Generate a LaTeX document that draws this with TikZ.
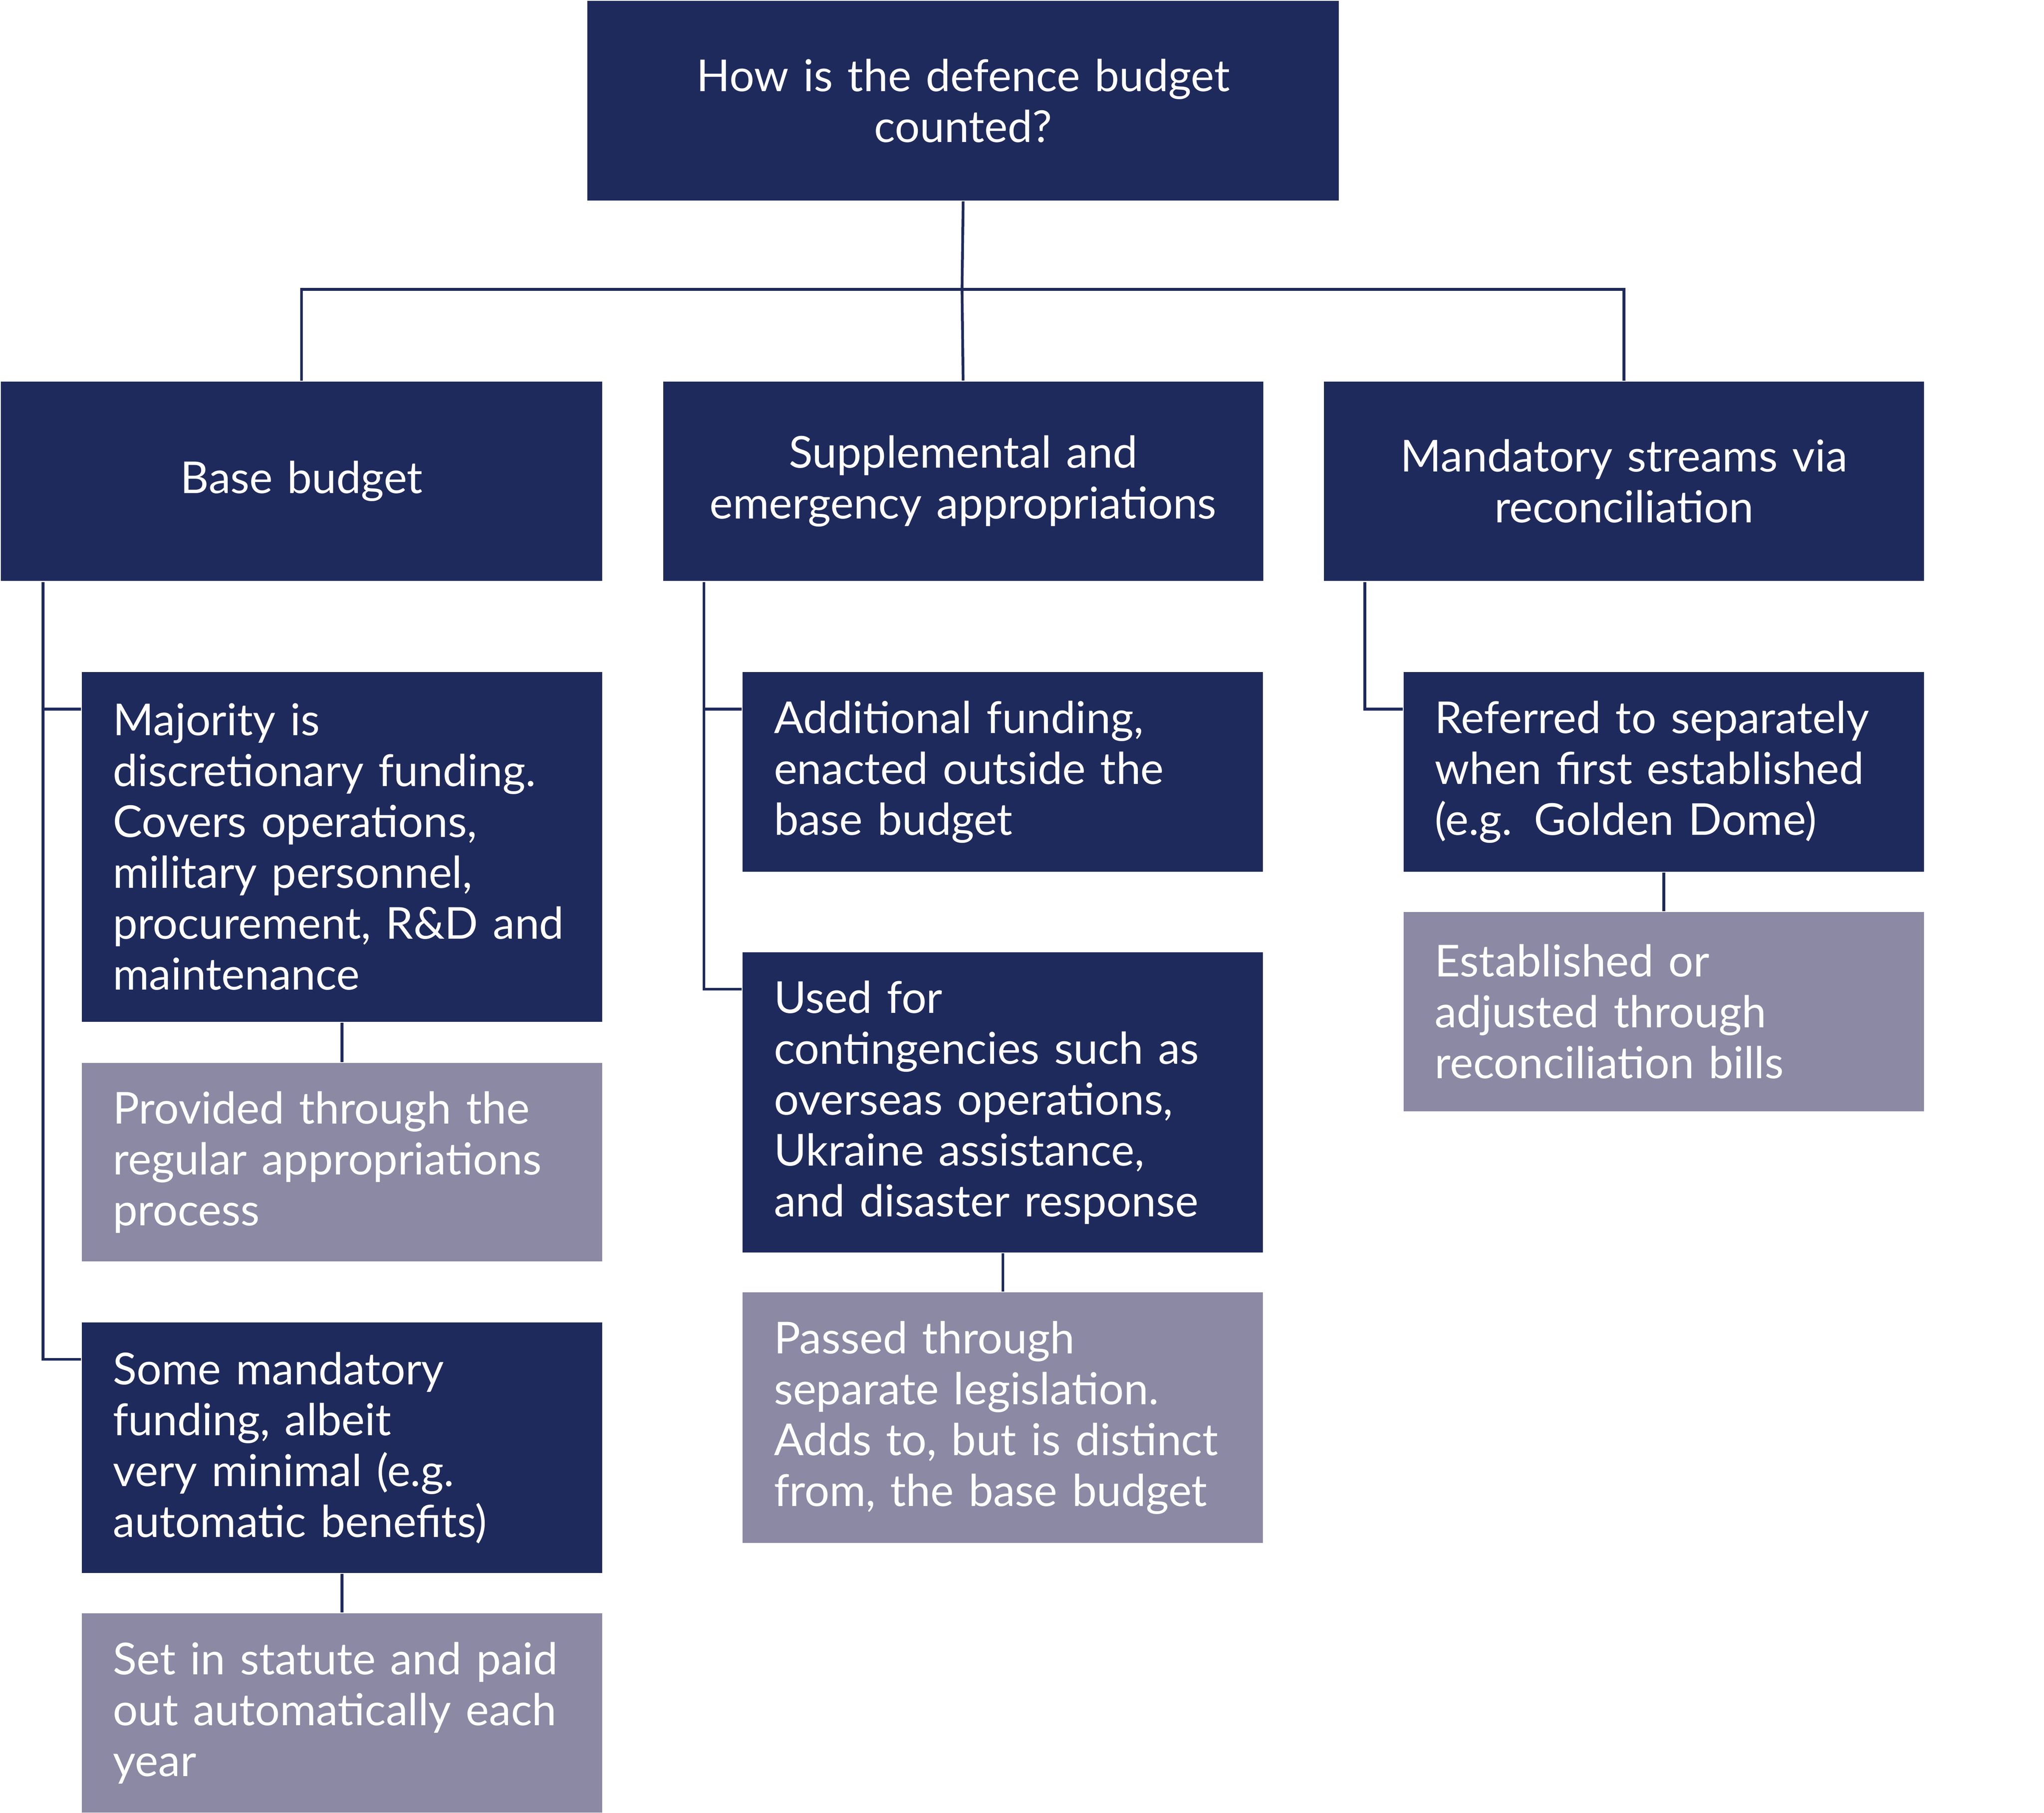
\documentclass[tikz,border=0pt]{standalone}
\usepackage{fontspec}
\setmainfont{Lato}
\definecolor{navy}{HTML}{1F2A5C}
\definecolor{slate}{HTML}{8B89A3}
\tikzset{
  box/.style={fill=navy, text=white, anchor=north west, inner xsep=0.24cm, inner ysep=0pt,
    align=left, font=\fontsize{9.6}{11.1}\selectfont},
  head/.style={box, align=center},
  note/.style={box, fill=slate},
  link/.style={draw=navy, line width=0.6pt},
}
\begin{document}
\begin{tikzpicture}[x=0.01cm, y=-0.01cm]
\useasboundingbox (0,0) rectangle (1568,1391);
% top question
\node[head, minimum width=5.76cm, minimum height=1.53cm, text width=5.28cm] (q) at (450,0) {How is the defence budget\\counted?};
% three streams
\node[head, minimum width=4.61cm, minimum height=1.53cm, text width=4.13cm] (base) at (0,292) {Base budget};
\node[head, minimum width=4.6cm, minimum height=1.53cm, text width=4.12cm] (supp) at (508,292) {Supplemental and\\emergency appropriations};
\node[head, minimum width=4.6cm, minimum height=1.53cm, text width=4.12cm] (mand) at (1015,292) {Mandatory streams via\\reconciliation};
% base budget
\node[box, minimum width=3.99cm, minimum height=2.68cm, text width=3.51cm] (major) at (62,515) {Majority is\\discretionary funding.\\Covers operations,\\military personnel,\\procurement, R\&D and\\maintenance};
\node[note, minimum width=3.99cm, minimum height=1.52cm, text width=3.51cm] (regular) at (62,815) {Provided through the\\regular appropriations\\process};
\node[box, minimum width=3.99cm, minimum height=1.92cm, text width=3.51cm] (minimal) at (62,1014) {Some mandatory\\funding, albeit\\very minimal (e.g.\\automatic benefits)};
\node[note, minimum width=3.99cm, minimum height=1.53cm, text width=3.51cm] (statute) at (62,1237) {Set in statute and paid\\out automatically each\\year};
% supplemental
\node[box, minimum width=3.99cm, minimum height=1.53cm, text width=3.51cm] (extra) at (569,515) {Additional funding,\\enacted outside the\\base budget};
\node[box, minimum width=3.99cm, minimum height=2.3cm, text width=3.51cm] (contin) at (569,730) {Used for\\contingencies such as\\overseas operations,\\Ukraine assistance,\\and disaster response};
\node[note, minimum width=3.99cm, minimum height=1.92cm, text width=3.51cm] (separate) at (569,991) {Passed through\\separate legislation.\\Adds to, but is distinct\\from, the base budget};
% mandatory
\node[box, minimum width=3.99cm, minimum height=1.53cm, text width=3.51cm] (golden) at (1076,515) {Referred to separately\\when first established\\(e.g. Golden Dome)};
\node[note, minimum width=3.99cm, minimum height=1.53cm, text width=3.51cm] (recon) at (1076,699) {Established or\\adjusted through\\reconciliation bills};

% tree
\coordinate (fork) at (738,222);
\draw[link] (q.south) -- (fork);
\draw[link] (base.north) |- (fork) -| (mand.north);
\draw[link] (fork) -- (supp.north);
\draw[link] ([xshift=0.33cm]base.south west) |- ([yshift=-0.29cm]major.north west);
\draw[link] ([xshift=0.33cm]base.south west) |- ([yshift=-0.29cm]minimal.north west);
\draw[link] ([xshift=0.32cm]supp.south west) |- ([yshift=-0.29cm]extra.north west);
\draw[link] ([xshift=0.32cm]supp.south west) |- ([yshift=-0.29cm]contin.north west);
\draw[link] ([xshift=0.32cm]mand.south west) |- ([yshift=-0.29cm]golden.north west);
\draw[link] (major) -- (regular);
\draw[link] (minimal) -- (statute);
\draw[link] (contin) -- (separate);
\draw[link] (golden) -- (recon);
\end{tikzpicture}
\end{document}
